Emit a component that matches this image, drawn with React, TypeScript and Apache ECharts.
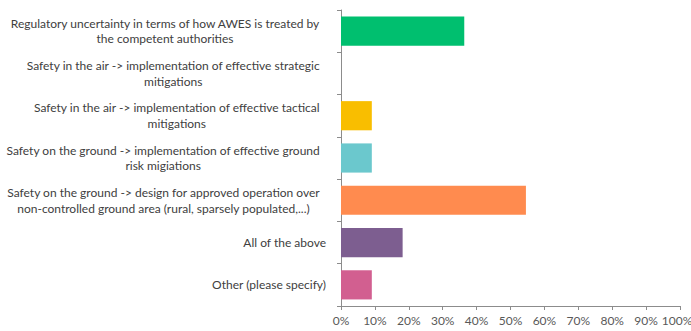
import React, { useEffect, useRef } from "react";
import * as echarts from "echarts";

// Survey answers (top to bottom) and share of respondents choosing each
const categories: string[] = [
  "Regulatory uncertainty in terms of how AWES is treated by\nthe competent authorities",
  "Safety in the air -> implementation of effective strategic\nmitigations",
  "Safety in the air -> implementation of effective tactical\nmitigations",
  "Safety on the ground -> implementation of effective ground\nrisk migiations",
  "Safety on the ground -> design for approved operation over\nnon-controlled ground area (rural, sparsely populated,...)",
  "All of the above",
  "Other (please specify)",
];
const shares: number[] = [36.36, 0, 9.09, 9.09, 54.55, 18.18, 9.09];
const barColors: string[] = ["#00BF6F", "#F9BE00", "#F9BE00", "#6BC8CD", "#FF8B4F", "#7D5E90", "#D25F90"];
const xTicks: number[] = [0, 10, 20, 30, 40, 50, 60, 70, 80, 90, 100];

const FONT = "Lato, 'Noto Sans', sans-serif";
const LABEL_SIZE = 12;

export default function App() {
  const ref = useRef<HTMLDivElement>(null);

  useEffect(() => {
    if (!ref.current) return;
    const chart = echarts.init(ref.current, undefined, { renderer: "svg" });
    const maxTick = xTicks[xTicks.length - 1];
    chart.setOption({
      animation: false,
      backgroundColor: "#ffffff",
      grid: {
        left: 341,
        right: 11,
        top: 10,
        bottom: 25,
        containLabel: false,
        outerBoundsMode: "none",
      },
      xAxis: {
        type: "value",
        min: xTicks[0],
        max: maxTick,
        interval: 10,
        axisLine: { show: true, lineStyle: { color: "#8c8c8c", width: 1 } },
        axisTick: { show: true, length: 4, lineStyle: { color: "#8c8c8c" } },
        splitLine: { show: false },
        axisLabel: {
          // the last label is nudged left so it stays inside the canvas
          formatter: (v: number) => (v === maxTick ? `{last|${v}%}` : `${v}%`),
          color: "#595959",
          fontFamily: FONT,
          fontSize: LABEL_SIZE,
          margin: 8,
          rich: {
            last: {
              color: "#595959",
              fontFamily: FONT,
              fontSize: LABEL_SIZE,
              padding: [0, 6, 0, 0],
            },
          },
        },
      },
      yAxis: {
        type: "category",
        inverse: true,
        data: categories,
        axisLine: { show: true, lineStyle: { color: "#8c8c8c", width: 1 } },
        axisTick: { show: true, length: 4, lineStyle: { color: "#8c8c8c" } },
        axisLabel: {
          color: "#404040",
          fontFamily: FONT,
          fontSize: LABEL_SIZE,
          lineHeight: 15.5,
          margin: 15,
          align: "right",
          formatter: (v: string) => {
            const lines = v.split("\n");
            const tag = lines.length > 1 ? "m" : "s";
            return lines.map((line) => `{${tag}|${line}}`).join("\n");
          },
          rich: {
            m: {
              align: "center",
              color: "#404040",
              fontFamily: FONT,
              fontSize: LABEL_SIZE,
              lineHeight: 15.5,
              padding: [0, 6, 0, 0],
            },
            s: {
              color: "#404040",
              fontFamily: FONT,
              fontSize: LABEL_SIZE,
              lineHeight: 15.5,
            },
          },
        },
      },
      series: [
        {
          type: "bar",
          data: shares.map((v, i) => ({ value: v, itemStyle: { color: barColors[i] } })),
          barCategoryGap: "31%",
        },
      ],
    });
    return () => chart.dispose();
  }, []);

  return <div ref={ref} style={{ width: 691, height: 331, position: "absolute", left: 0, top: 0 }} />;
}
